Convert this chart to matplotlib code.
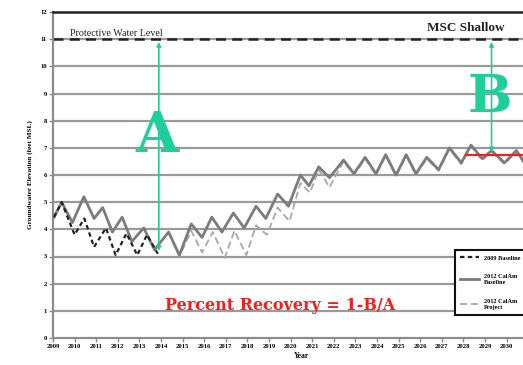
import numpy as np
import matplotlib
matplotlib.use('Agg')
import matplotlib.pyplot as plt

# values
years = list(range(2009, 2032))
yticks = list(range(0, 13))

yr_2009 = [2009.05, 2009.4, 2010.0, 2010.45, 2010.9, 2011.45, 2011.9, 2012.4, 2012.9, 2013.35, 2013.85]
gw_2009 = [4.45, 5.0, 3.8, 4.4, 3.35, 4.05, 3.05, 3.85, 3.05, 3.8, 3.1]

yr_base = [2009.05, 2009.4, 2009.9, 2010.43, 2010.9, 2011.3, 2011.75, 2012.2, 2012.65, 2013.2,
           2013.7, 2014.35, 2014.85, 2015.4, 2015.9, 2016.35, 2016.82, 2017.35, 2017.85, 2018.4,
           2018.85, 2019.4, 2019.9, 2020.45, 2020.85, 2021.3, 2021.8, 2022.45, 2022.93, 2023.45,
           2023.95, 2024.4, 2024.88, 2025.35, 2025.8, 2026.3, 2026.85, 2027.35, 2027.9, 2028.35,
           2028.87, 2029.3, 2029.9, 2030.45, 2030.95, 2031.4]
gw_base = [4.45, 5.0, 4.25, 5.2, 4.4, 4.8, 3.9, 4.45, 3.55, 4.05,
           3.25, 3.9, 3.05, 4.2, 3.7, 4.45, 3.9, 4.6, 4.05, 4.85,
           4.4, 5.3, 4.85, 6.0, 5.6, 6.3, 5.9, 6.55, 6.05, 6.65,
           6.05, 6.75, 6.0, 6.75, 6.05, 6.65, 6.2, 7.0, 6.45, 7.1,
           6.6, 6.9, 6.45, 6.9, 6.3, 6.8]

yr_proj = [2014.35, 2014.85, 2015.4, 2015.9, 2016.4, 2016.95, 2017.4, 2017.95, 2018.4, 2018.9,
           2019.4, 2019.95, 2020.45, 2020.9, 2021.3, 2021.8, 2022.45, 2022.93, 2023.45, 2023.95,
           2024.4, 2024.88, 2025.35, 2025.8, 2026.3, 2026.85, 2027.35, 2027.9, 2028.35, 2028.87,
           2029.3, 2029.9, 2030.45, 2030.95, 2031.4]
gw_proj = [3.9, 3.0, 3.95, 3.15, 3.9, 2.95, 3.95, 3.05, 4.15, 3.8,
           4.8, 4.3, 5.7, 5.35, 6.2, 5.55, 6.5, 6.0, 6.6, 6.0,
           6.7, 5.95, 6.7, 6.0, 6.6, 6.15, 6.95, 6.4, 7.05, 6.55,
           6.85, 6.4, 6.85, 6.25, 6.75]

protective_level = 11
recovered_level = 6.73
a_year, a_low = 2013.9, 3.1
b_year = 2029.3
red_start = 2028.1

green = '#1ecf9b'
serif = 'Liberation Serif'

fig = plt.figure(figsize=(5.23, 3.65), dpi=100)
ax = fig.add_axes([53/523, 27/365, 0.95, 326/365])

ax.set_xlim(2009, 2032)
ax.set_ylim(0, 12)

for y in yticks[1:12]:
    ax.axhline(y, color='#9a9a9a', lw=1.6, zorder=1)

ax.plot(yr_proj, gw_proj, color='#a8a8a8', lw=1.3, ls=(0, (4, 2)), zorder=3,
        label='2012 CalAm\nProject')
ax.plot(yr_base, gw_base, color='#7c7c7c', lw=2.0, zorder=4, solid_joinstyle='round',
        label='2012 CalAm\nBaseline')
ax.plot(yr_2009, gw_2009, color='#222222', lw=1.6, ls=(0, (2, 1.5)), zorder=5,
        label='2009 Baseline')

ax.axhline(protective_level, color='#222222', lw=1.8, ls=(0, (4, 2.5)), zorder=2)
ax.plot([red_start, 2032], [recovered_level, recovered_level], color='#ff1a1a', lw=1.5, zorder=6)

# arrows A and B
ax.annotate('', xy=(a_year, protective_level), xytext=(a_year, a_low),
            arrowprops=dict(arrowstyle='<|-|>', color=green, lw=1.2, mutation_scale=6), zorder=7)
ax.annotate('', xy=(b_year, protective_level), xytext=(b_year, recovered_level),
            arrowprops=dict(arrowstyle='<|-|>', color=green, lw=1.2, mutation_scale=6), zorder=7)
ax.text(a_year - 0.1, 7.4, 'A', color=green, fontsize=40, fontweight='bold',
        family='DejaVu Serif', ha='center', va='center', zorder=8)
ax.text(b_year - 0.1, 8.85, 'B', color=green, fontsize=38, fontweight='bold',
        family='DejaVu Serif', ha='center', va='center', zorder=8)

ax.text(2009.8, 11.05, 'Protective Water Level', family=serif, fontsize=7.2,
        ha='left', va='bottom', color='#222222')
ax.text(2029.9, 11.2, 'MSC Shallow', family=serif, fontsize=9.5, fontweight='bold',
        ha='right', va='bottom', color='#222222')
ax.text(2019.5, 1.2, 'Percent Recovery = 1-B/A', family='DejaVu Serif', fontsize=11.5,
        fontweight='bold', color='#ff1a1a', ha='center', va='center', zorder=8)

ax.set_xticks(years)
ax.set_xticklabels([str(y) if y < 2031 else '' for y in years], family=serif,
                   fontsize=4.8, fontweight='bold')
ax.set_yticks(yticks)
ax.set_yticklabels([str(y) for y in yticks], family=serif, fontsize=4.8, fontweight='bold')
ax.tick_params(length=3, width=1, color='#8c8c8c', pad=1.5)

ax.set_xlabel('Year', family=serif, fontsize=5.5, fontweight='bold', labelpad=2)
ax.set_ylabel('Groundwater Elevation (feet MSL)', family=serif, fontsize=5.2,
              fontweight='bold', labelpad=5)

for side in ['left', 'bottom']:
    ax.spines[side].set_color('#8c8c8c')
    ax.spines[side].set_linewidth(1.6)
ax.spines['top'].set_color('#222222')
ax.spines['top'].set_linewidth(1.8)
ax.spines['right'].set_visible(False)

h, l = ax.get_legend_handles_labels()
order = [2, 1, 0]
leg = fig.legend([h[i] for i in order], [l[i] for i in order], loc='upper left',
                 bbox_to_anchor=(452/523, 1 - 247/365), prop={'family': serif, 'size': 4.5, 'weight': 'bold'},
                 labelspacing=2.2, handlelength=3, borderpad=0.8, fancybox=False,
                 edgecolor='#111111', framealpha=1)
leg.get_frame().set_linewidth(1.5)

fig.savefig('out.png', dpi=100)
